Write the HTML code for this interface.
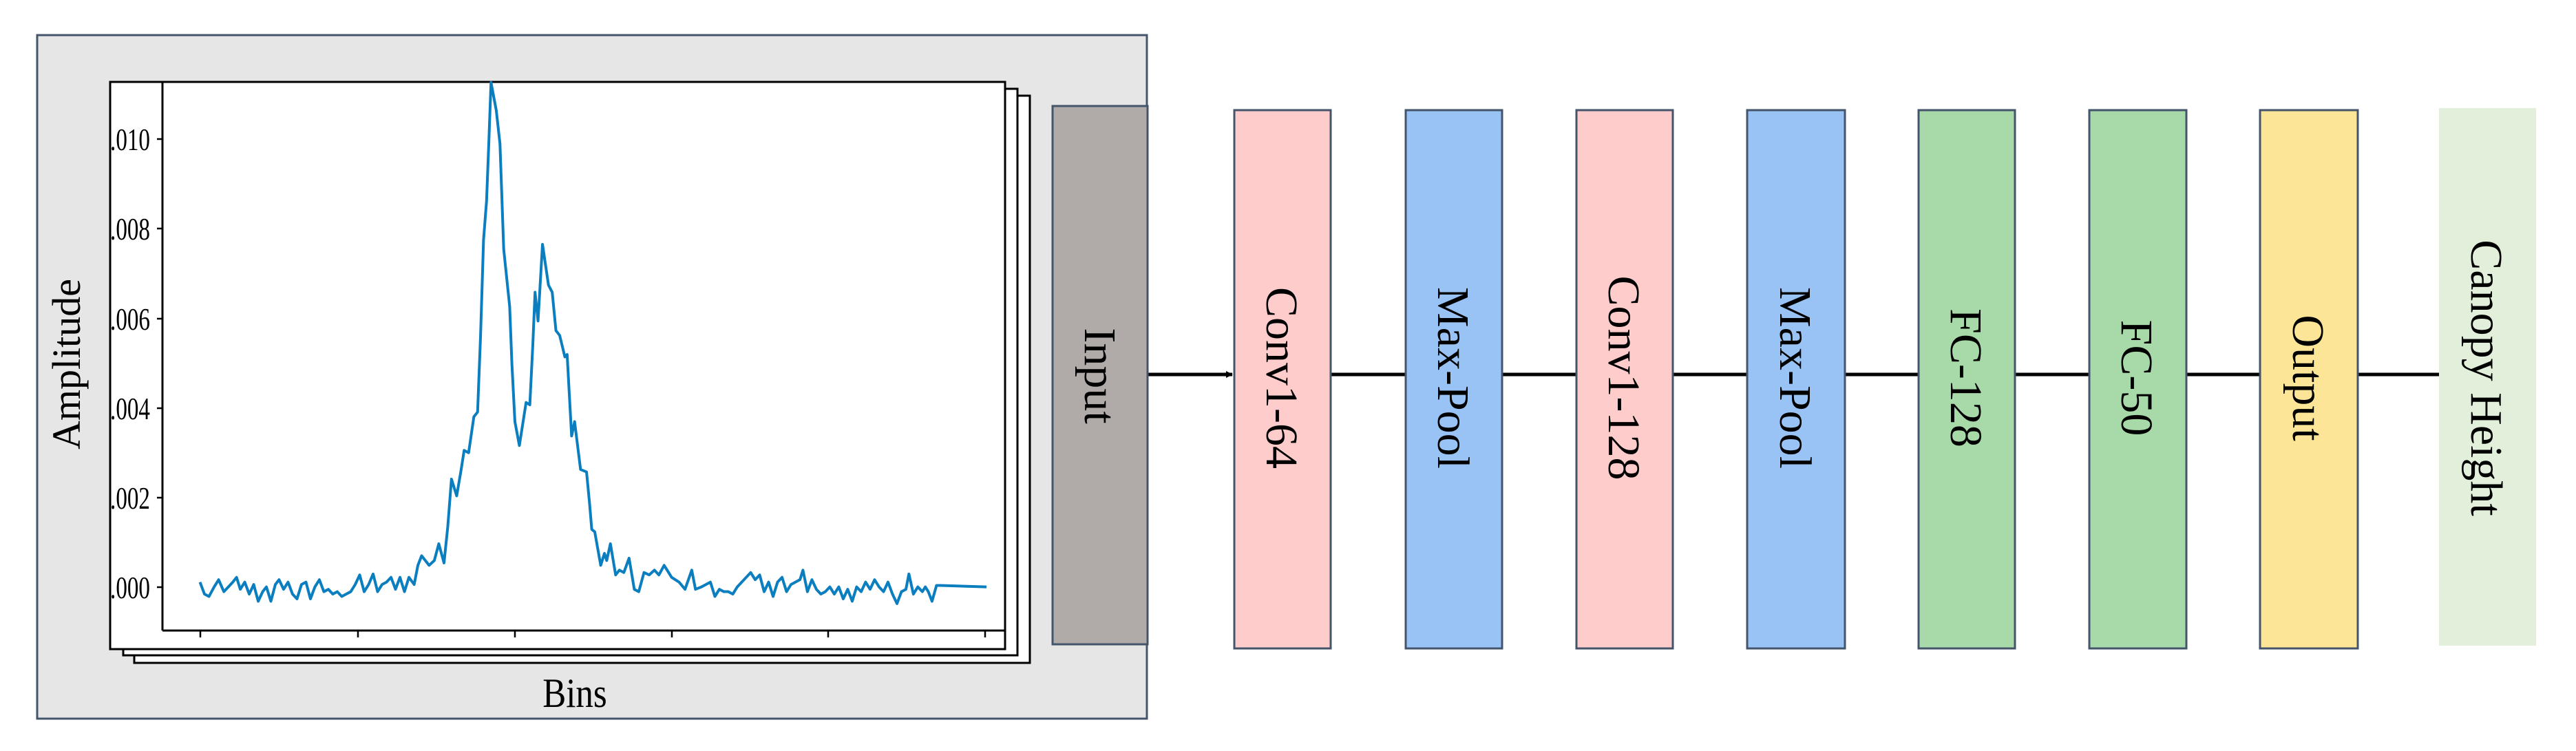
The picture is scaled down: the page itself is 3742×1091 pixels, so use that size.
<!DOCTYPE html>
<html><head><meta charset="utf-8"><style>
html,body{margin:0;padding:0;background:#fff;}
svg{display:block;}
text{font-family:"Liberation Serif",serif;fill:#000;}
</style></head><body>
<svg width="3742" height="1091" viewBox="0 0 3742 1091" xmlns="http://www.w3.org/2000/svg">
<defs>
<clipPath id="c"><rect x="161" y="119" width="1300" height="824"/></clipPath>
<marker id="ah" markerWidth="10" markerHeight="10" refX="9" refY="5" orient="auto" markerUnits="userSpaceOnUse" viewBox="0 0 10 10"><path d="M0,0 L10,5 L0,10 z" fill="#000"/></marker>
</defs>
<rect x="54" y="51" width="1612" height="993" fill="#e6e6e6" stroke="#44546a" stroke-width="3"/>
<!-- stacked plot pages -->
<rect x="195" y="139" width="1301" height="824" fill="#fff" stroke="#000" stroke-width="3"/>
<rect x="179" y="129" width="1299" height="823" fill="#fff" stroke="#000" stroke-width="3"/>
<rect x="160" y="119" width="1300" height="824" fill="#fff" stroke="#000" stroke-width="3"/>
<!-- axes -->
<line x1="236" y1="119" x2="236" y2="916" stroke="#000" stroke-width="3"/>
<line x1="236" y1="916" x2="1460" y2="916" stroke="#000" stroke-width="3"/>
<g stroke="#000" stroke-width="2.5">
<line x1="228" y1="202" x2="236" y2="202"/><line x1="228" y1="332" x2="236" y2="332"/><line x1="228" y1="463" x2="236" y2="463"/><line x1="228" y1="593" x2="236" y2="593"/><line x1="228" y1="723" x2="236" y2="723"/><line x1="228" y1="853" x2="236" y2="853"/>
<line x1="291" y1="916" x2="291" y2="926"/><line x1="520" y1="916" x2="520" y2="926"/><line x1="748" y1="916" x2="748" y2="926"/><line x1="976" y1="916" x2="976" y2="926"/><line x1="1203" y1="916" x2="1203" y2="926"/><line x1="1431" y1="916" x2="1431" y2="926"/>
</g>
<g clip-path="url(#c)" font-size="46">
<text transform="translate(218,218) scale(0.72,1)" text-anchor="end">0.010</text>
<text transform="translate(218,348) scale(0.72,1)" text-anchor="end">0.008</text>
<text transform="translate(218,479) scale(0.72,1)" text-anchor="end">0.006</text>
<text transform="translate(218,609) scale(0.72,1)" text-anchor="end">0.004</text>
<text transform="translate(218,739) scale(0.72,1)" text-anchor="end">0.002</text>
<text transform="translate(218,869) scale(0.72,1)" text-anchor="end">0.000</text>
</g>
<g transform="matrix(1.084,0,0,0.696,0,0)">
<path vector-effect="non-scaling-stroke" fill="none" stroke="#0a7ebf" stroke-width="4" stroke-linejoin="round" d="M268,1215 L274,1240 280,1245 287,1225 293,1210 300,1235 306,1225 312,1215 317,1205 322,1230 328,1215 334,1240 340,1220 346,1255 352,1235 357,1225 363,1255 369,1220 374,1210 380,1230 386,1215 392,1240 398,1250 404,1220 410,1215 416,1250 422,1225 428,1210 434,1235 440,1230 446,1240 452,1235 458,1245 464,1240 470,1235 476,1220 482,1200 488,1235 494,1220 500,1198 506,1235 512,1220 518,1215 524,1205 530,1230 536,1205 542,1235 548,1205 555,1220 560,1180 565,1160 575,1180 582,1170 588,1135 595,1175 600,1100 605,1000 612,1035 618,980 622,940 628,945 635,870 640,860 644,700 648,500 652,420 655,300 658,172 665,230 670,300 675,520 683,640 686,760 690,880 696,930 705,840 710,845 714,720 717,610 721,670 727,510 735,595 740,610 745,690 750,700 757,745 760,740 766,910 770,880 778,980 786,985 790,1050 793,1105 797,1110 805,1180 810,1155 813,1170 818,1135 825,1200 830,1190 836,1195 843,1165 850,1230 856,1235 863,1195 870,1200 877,1190 883,1200 890,1180 900,1205 910,1215 918,1230 927,1190 932,1230 940,1225 946,1220 952,1215 958,1245 964,1230 970,1235 976,1235 982,1240 988,1225 994,1215 1000,1205 1006,1195 1012,1210 1018,1200 1024,1235 1030,1215 1036,1245 1042,1215 1048,1205 1054,1235 1060,1220 1066,1215 1072,1210 1076,1190 1082,1235 1088,1210 1094,1230 1100,1240 1106,1235 1112,1225 1118,1240 1124,1225 1130,1250 1136,1230 1142,1255 1148,1225 1154,1235 1160,1215 1166,1230 1172,1210 1178,1225 1184,1235 1190,1215 1196,1240 1202,1260 1208,1235 1214,1230 1218,1198 1224,1240 1230,1225 1236,1235 1240,1225 1244,1235 1249,1255 1255,1222 1260,1222 1322,1225"/>
</g>
<text transform="translate(835,1027) scale(0.85,1)" font-size="60" text-anchor="middle">Bins</text>
<text transform="translate(116,529) rotate(-90)" font-size="58" text-anchor="middle">Amplitude</text>
<!-- connector -->
<line x1="1667" y1="544" x2="1790" y2="544" stroke="#000" stroke-width="5" marker-end="url(#ah)"/>
<line x1="1933" y1="544" x2="3425" y2="544" stroke="#000" stroke-width="5"/>
<line x1="3425" y1="544" x2="3556" y2="544" stroke="#000" stroke-width="5" marker-end="url(#ah)"/>
<!-- boxes -->
<g stroke="#44546a" stroke-width="3">
<rect x="1529" y="154" width="138" height="782" fill="#b0aba8"/>
<rect x="1793" y="160" width="140" height="782" fill="#ffcccc"/>
<rect x="2042" y="160" width="140" height="782" fill="#99c3f5"/>
<rect x="2290" y="160" width="140" height="782" fill="#ffcccc"/>
<rect x="2538" y="160" width="142" height="782" fill="#99c3f5"/>
<rect x="2787" y="160" width="140" height="782" fill="#a8d9a8"/>
<rect x="3035" y="160" width="141" height="782" fill="#a8d9a8"/>
<rect x="3283" y="160" width="142" height="782" fill="#fde597"/>
</g>
<rect x="3543" y="157" width="141" height="781" fill="#e2efdb"/>
<g font-size="66" text-anchor="middle">
<text transform="translate(1576,546) rotate(90)">Input</text>
<text transform="translate(1840,549) rotate(90)">Conv1-64</text>
<text transform="translate(2089,549) rotate(90)">Max-Pool</text>
<text transform="translate(2337,549) rotate(90)">Conv1-128</text>
<text transform="translate(2586,549) rotate(90)">Max-Pool</text>
<text transform="translate(2834,549) rotate(90)">FC-128</text>
<text transform="translate(3082,549) rotate(90)">FC-50</text>
<text transform="translate(3331,549) rotate(90)">Output</text>
<text transform="translate(3590,549) rotate(90)">Canopy Height</text>
</g>
</svg>
</body></html>
